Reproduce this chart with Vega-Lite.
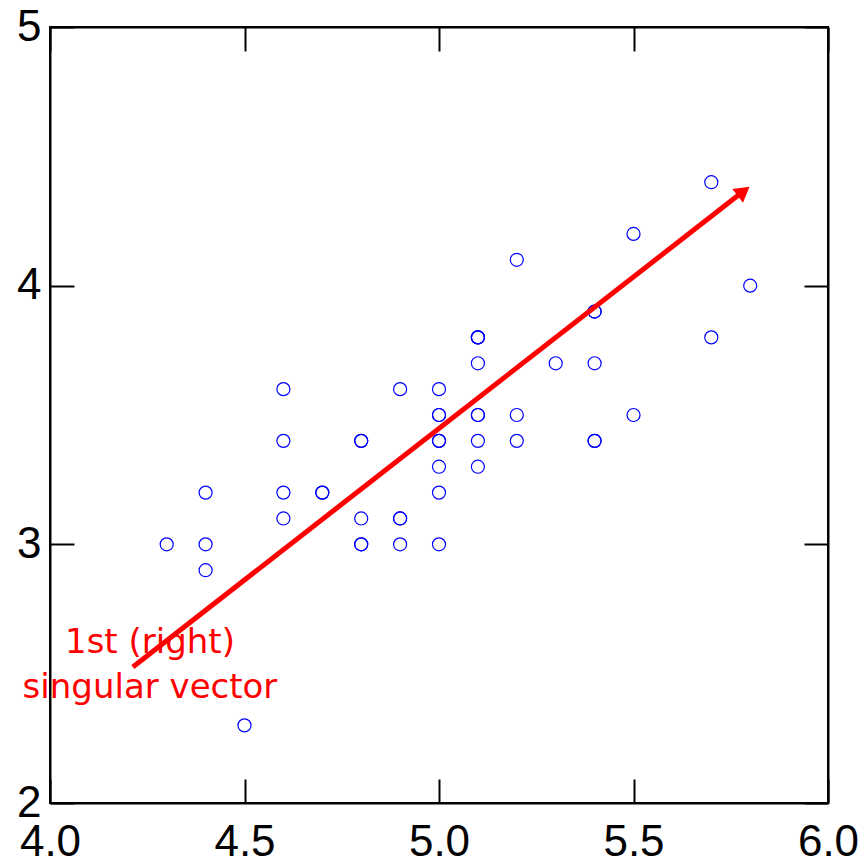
{
  "$schema": "https://vega.github.io/schema/vega-lite/v6.json",
  "width": 778,
  "height": 776,
  "autosize": {"type": "none"},
  "padding": {"left": 50, "top": 27, "right": 37, "bottom": 62},
  "background": "white",
  "config": {
    "view": {"stroke": "black", "strokeWidth": 2},
    "axis": {
      "labelFont": "Liberation Sans",
      "labelFontSize": 44,
      "labelColor": "black",
      "tickColor": "black",
      "domainColor": "black",
      "tickSize": -24,
      "tickWidth": 2,
      "domainWidth": 2,
      "grid": false,
      "title": null
    }
  },
  "datasets": {
    "iris": [
      {"sl": 5.1, "sw": 3.5}, {"sl": 4.9, "sw": 3.0}, {"sl": 4.7, "sw": 3.2}, {"sl": 4.6, "sw": 3.1},
      {"sl": 5.0, "sw": 3.6}, {"sl": 5.4, "sw": 3.9}, {"sl": 4.6, "sw": 3.4}, {"sl": 5.0, "sw": 3.4},
      {"sl": 4.4, "sw": 2.9}, {"sl": 4.9, "sw": 3.1}, {"sl": 5.4, "sw": 3.7}, {"sl": 4.8, "sw": 3.4},
      {"sl": 4.8, "sw": 3.0}, {"sl": 4.3, "sw": 3.0}, {"sl": 5.8, "sw": 4.0}, {"sl": 5.7, "sw": 4.4},
      {"sl": 5.4, "sw": 3.9}, {"sl": 5.1, "sw": 3.5}, {"sl": 5.7, "sw": 3.8}, {"sl": 5.1, "sw": 3.8},
      {"sl": 5.4, "sw": 3.4}, {"sl": 5.1, "sw": 3.7}, {"sl": 4.6, "sw": 3.6}, {"sl": 5.1, "sw": 3.3},
      {"sl": 4.8, "sw": 3.4}, {"sl": 5.0, "sw": 3.0}, {"sl": 5.0, "sw": 3.4}, {"sl": 5.2, "sw": 3.5},
      {"sl": 5.2, "sw": 3.4}, {"sl": 4.7, "sw": 3.2}, {"sl": 4.8, "sw": 3.1}, {"sl": 5.4, "sw": 3.4},
      {"sl": 5.2, "sw": 4.1}, {"sl": 5.5, "sw": 4.2}, {"sl": 4.9, "sw": 3.1}, {"sl": 5.0, "sw": 3.2},
      {"sl": 5.5, "sw": 3.5}, {"sl": 4.9, "sw": 3.6}, {"sl": 4.4, "sw": 3.0}, {"sl": 5.1, "sw": 3.4},
      {"sl": 5.0, "sw": 3.5}, {"sl": 4.5, "sw": 2.3}, {"sl": 4.4, "sw": 3.2}, {"sl": 5.0, "sw": 3.5},
      {"sl": 5.1, "sw": 3.8}, {"sl": 4.8, "sw": 3.0}, {"sl": 5.1, "sw": 3.8}, {"sl": 4.6, "sw": 3.2},
      {"sl": 5.3, "sw": 3.7}, {"sl": 5.0, "sw": 3.3}
    ],
    "arrow": [{"x": 4.213, "y": 2.526}, {"x": 5.78, "y": 4.362}],
    "head": [{"x": 5.783, "y": 4.365}],
    "label": [
      {"x": 4.257, "y": 2.58, "t": "1st (right)"},
      {"x": 4.257, "y": 2.406, "t": "singular vector"}
    ]
  },
  "layer": [
    {
      "data": {"name": "iris"},
      "mark": {"type": "point", "shape": "circle", "filled": false, "color": "#0000ff", "strokeWidth": 1.2, "size": 170, "opacity": 1},
      "encoding": {
        "x": {"field": "sl", "type": "quantitative", "scale": {"domain": [4, 6], "nice": false, "zero": false},
              "axis": {"orient": "bottom", "values": [4, 4.5, 5, 5.5, 6], "format": ".1f", "labelPadding": 41, "labelFlush": false, "labelOverlap": false}},
        "y": {"field": "sw", "type": "quantitative", "scale": {"domain": [2, 5], "nice": false, "zero": false},
              "axis": {"orient": "left", "values": [2, 3, 4, 5], "format": "d", "labelPadding": 33, "labelFlush": false, "labelOverlap": false}}
      }
    },
    {
      "data": {"name": "arrow"},
      "mark": {"type": "line", "color": "red", "strokeWidth": 5, "strokeCap": "butt"},
      "encoding": {
        "x": {"field": "x", "type": "quantitative",
              "axis": {"orient": "top", "values": [4, 4.5, 5, 5.5, 6], "labels": false}},
        "y": {"field": "y", "type": "quantitative",
              "axis": {"orient": "right", "values": [2, 3, 4, 5], "labels": false}}
      }
    },
    {
      "data": {"name": "head"},
      "mark": {"type": "point", "shape": "triangle-up", "filled": true, "color": "red", "size": 300, "angle": 52, "opacity": 1},
      "encoding": {
        "x": {"field": "x", "type": "quantitative", "axis": null},
        "y": {"field": "y", "type": "quantitative", "axis": null}
      }
    },
    {
      "data": {"name": "label"},
      "mark": {"type": "text", "color": "red", "font": "DejaVu Sans", "fontSize": 34, "align": "center", "baseline": "alphabetic"},
      "encoding": {
        "x": {"field": "x", "type": "quantitative", "axis": null},
        "y": {"field": "y", "type": "quantitative", "axis": null},
        "text": {"field": "t"}
      }
    }
  ],
  "resolve": {"axis": {"x": "independent", "y": "independent"}}
}
